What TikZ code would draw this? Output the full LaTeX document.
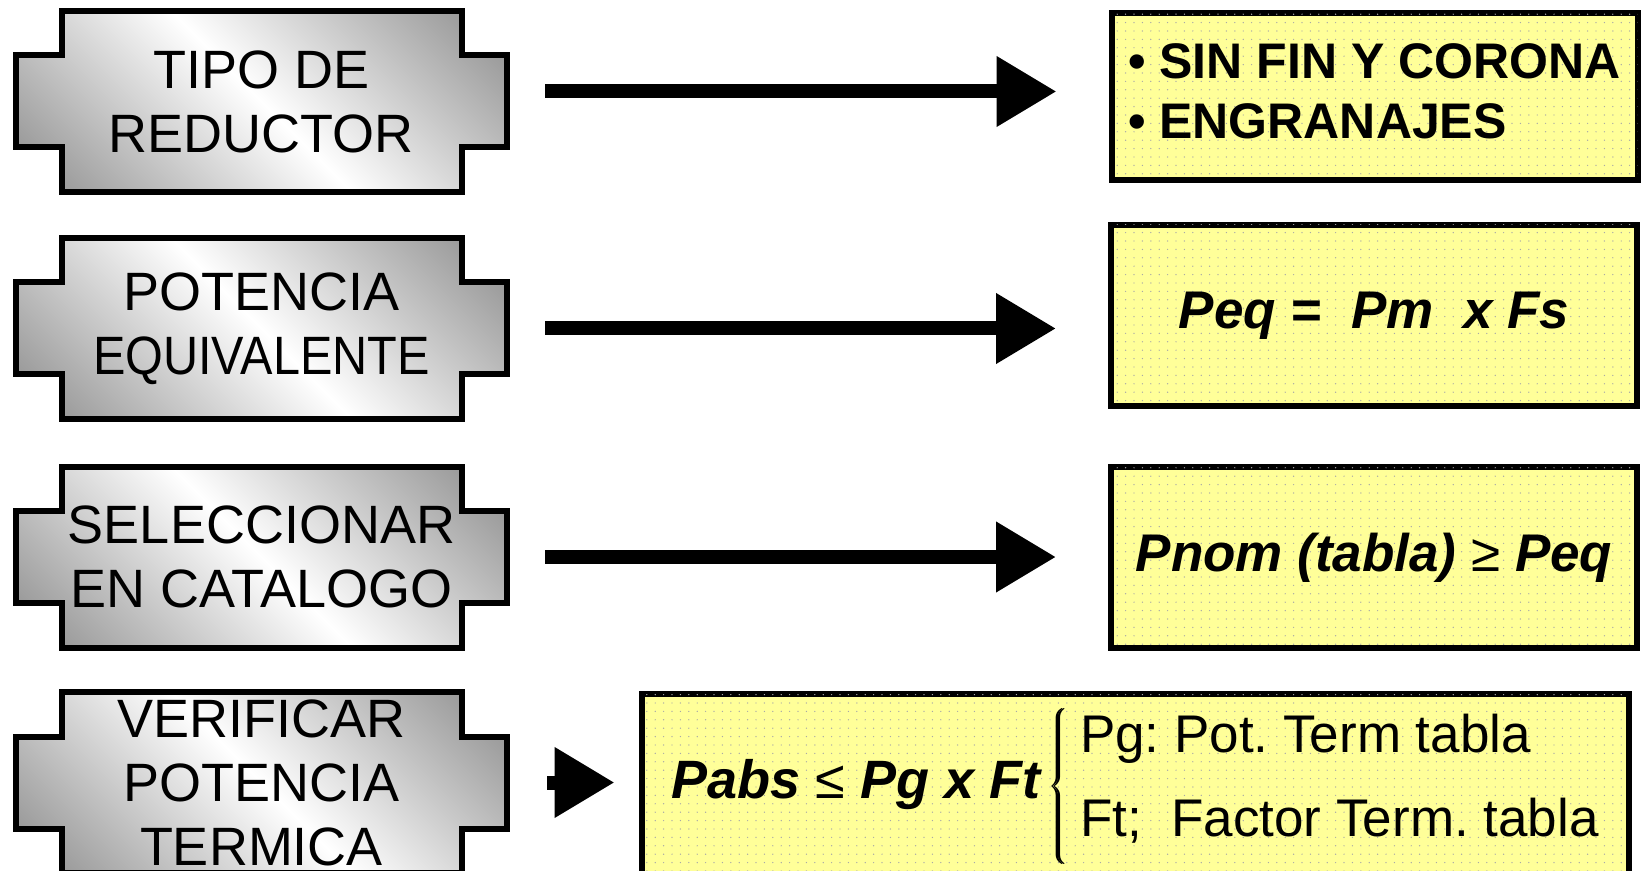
\documentclass[tikz,border=0pt]{standalone}
\usepackage{fontspec}
\usepackage{graphicx}
\setmainfont{Liberation Sans}
\usetikzlibrary{arrows.meta,positioning,backgrounds,patterns.meta}
\definecolor{notefill}{HTML}{FFFF99}
\definecolor{metal}{HTML}{8C8C8C}
\definecolor{dotgray}{HTML}{A8A8A8}
\pgfdeclareverticalshading{metalico}{100bp}{color(0bp)=(metal); color(15bp)=(metal);
  color(50bp)=(white); color(85bp)=(metal); color(100bp)=(metal)}
\tikzset{
  pasobox/.style={minimum width=245.5pt,minimum height=90.5pt,inner sep=0pt,
                  align=center,font=\fontsize{27}{32}\selectfont},
  cruzfill/.style={draw=black,line width=3pt,shading=metalico,shading angle=-45},
  notabox/.style={draw=black,line width=3pt,fill=notefill,
                  postaction={pattern={Dots[distance=4.2pt,radius=0.35pt]},pattern color=dotgray},
                  minimum width=263pt,minimum height=90.5pt,inner sep=0pt,
                  font=\fontsize{26.5}{31}\selectfont\bfseries\itshape},
  flecha/.style={-{Triangle[length=30pt,width=33.5pt]},line width=7pt}
}
\newcommand{\cruzbox}[1]{%
  \path[cruzfill] ([shift={(-100pt,45.25pt)}]#1.center) -- ++(200pt,0pt) -- ++(0pt,-22.25pt)
    -- ++(22.75pt,0pt) -- ++(0pt,-46pt) -- ++(-22.75pt,0pt) -- ++(0pt,-22.25pt)
    -- ++(-200pt,0pt) -- ++(0pt,22.25pt) -- ++(-22.75pt,0pt) -- ++(0pt,46pt)
    -- ++(22.75pt,0pt) -- cycle;}
\newcommand{\vin}{\makebox[15.5pt][l]{•}}
\newcommand{\rel}[1]{{\mdseries\upshape #1}}
% llave gruesa: dos llaves superpuestas
\newcommand{\llave}{\rlap{$\left\{\rule[-31.5pt]{0pt}{77pt}\right.$}\kern0.9pt$\left\{\rule[-31.5pt]{0pt}{77pt}\right.$}
\frenchspacing

\begin{document}
\begin{tikzpicture}[x=0.5pt,y=-0.5pt]
  \useasboundingbox (0,0) rectangle (1643,871);
  % pasos
  \node[pasobox] (tipo) at (261.5,101.5) {TIPO DE\\REDUCTOR};
  \node[pasobox] (potencia) at (261.5,328.5) {POTENCIA\\\scalebox{0.9}[1]{EQUIVALENTE}};
  \node[pasobox] (catalogo) at (261.5,557) {SELECCIONAR\\EN CATALOGO};
  \node[pasobox] (termica) at (261.5,782.5) {VERIFICAR\\POTENCIA\\TERMICA};
  \begin{scope}[on background layer]
    \foreach \n in {tipo,potencia,catalogo,termica}{\cruzbox{\n}}
  \end{scope}
  % resultados
  \node[notabox,minimum height=83.5pt,align=left,
        font=\fontsize{25}{30}\selectfont\bfseries] (tipos) at (1374.5,96.5)
        {\vin SIN FIN Y CORONA\\\vin ENGRANAJES\rule[-5pt]{0pt}{0pt}};
  \node[notabox] (formula) at (1374,315.5) {Peq =~~Pm~~x Fs};
  \node[notabox] (seleccion) at (1374,557.5) {Pnom (tabla) \rel{≥} Peq};
  \node[notabox,minimum width=493.5pt,minimum height=92pt,
        font=\fontsize{27}{31}\selectfont\bfseries\itshape] (verific) at (1135,786)
        {Pabs \rel{≤} Pg x Ft\hspace{4pt}\llave\hspace{5pt}$\raisebox{2pt}{\mdseries\upshape
         \fontsize{26.5}{31}\selectfont
         \begin{tabular}{@{}l@{}}Pg: Pot. Term tabla\\[11pt]Ft;~~Factor Term. tabla\end{tabular}}$};
  % flechas
  \draw[flecha,shorten <=19pt,shorten >=26pt] ([yshift=5pt]tipo.east) -- ([yshift=5pt]tipo.east -| tipos.west);
  \draw[flecha,shorten <=19pt,shorten >=26pt] (potencia.east) -- (potencia.east -| formula.west);
  \draw[flecha,shorten <=19pt,shorten >=26pt] (catalogo.east) -- (catalogo.east -| seleccion.west);
  \draw[flecha,shorten <=20pt,shorten >=12pt] (termica.east) -- (termica.east -| verific.west);
\end{tikzpicture}
\end{document}
